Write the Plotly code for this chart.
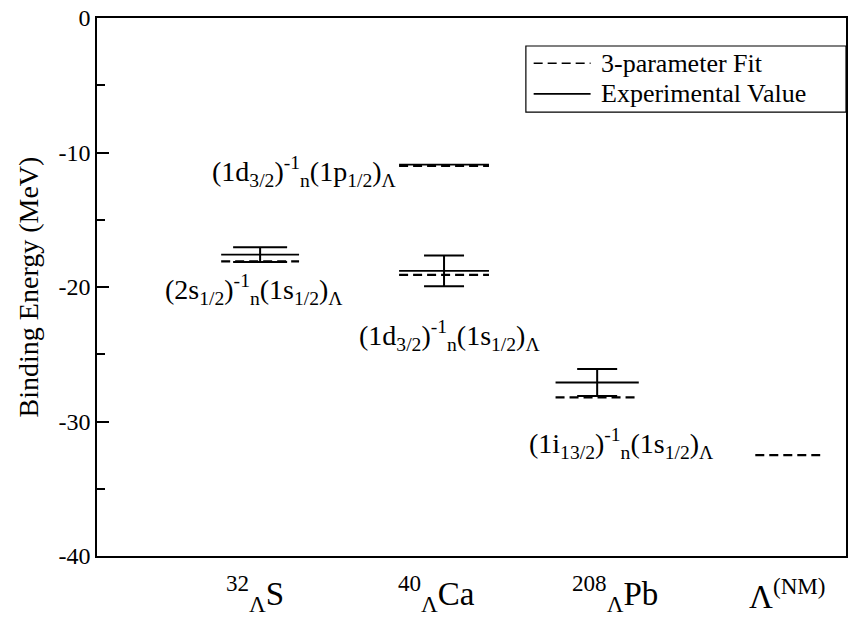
import plotly.graph_objects as go

# ---- data ----
nuclei_labels = ["<sup>32</sup><sub>Λ</sub>S", "<sup>40</sup><sub>Λ</sub>Ca",
                 "<sup>208</sup><sub>Λ</sub>Pb", "Λ<sup>(NM)</sup>"]
nuclei_x = [0.95, 2.04, 3.11, 4.15]

state_x = [0.98, 2.085, 2.085, 3.005, 4.15]
state_hw = [0.234, 0.27, 0.27, 0.25, 0.195]
fit_values = [-18.1, -11.0, -19.1, -28.2, -32.5]
exp_values = [-17.6, -10.9, -18.8, -27.1, None]
exp_errors = [0.55, 0.0, 1.15, 1.0, None]
cap_px = [27, 0, 20, 20, 0]

state_labels = [
    "(2s<sub>1/2</sub>)<sup>-1</sup><sub>n</sub>(1s<sub>1/2</sub>)<sub>Λ</sub>",
    "(1d<sub>3/2</sub>)<sup>-1</sup><sub>n</sub>(1p<sub>1/2</sub>)<sub>Λ</sub>",
    "(1d<sub>3/2</sub>)<sup>-1</sup><sub>n</sub>(1s<sub>1/2</sub>)<sub>Λ</sub>",
    "(1i<sub>13/2</sub>)<sup>-1</sup><sub>n</sub>(1s<sub>1/2</sub>)<sub>Λ</sub>",
]
state_label_x = [0.945, 1.246, 2.12, 3.146]
state_label_y = [-20.2, -11.4, -23.6, -31.6]

legend_names = ["3-parameter Fit", "Experimental Value"]

y_ticks = [0, -10, -20, -30, -40]
y_ticktext = ["0", "-10", "-20", "-30", "-40"]

FONT = "Liberation Serif, Times New Roman, serif"
DASH = "9px,5px"

fig = go.Figure()

# fit (dashed) levels
fx, fy = [], []
for x, hw, v in zip(state_x, state_hw, fit_values):
    fx += [x - hw, x + hw, None]
    fy += [v, v, None]
fig.add_trace(go.Scatter(x=fx, y=fy, mode="lines", name=legend_names[0], showlegend=False,
                         line=dict(color="black", width=2.2, dash=DASH)))

# experimental (solid) levels
ex, ey = [], []
for x, hw, v in zip(state_x, state_hw, exp_values):
    if v is None:
        continue
    ex += [x - hw, x + hw, None]
    ey += [v, v, None]
fig.add_trace(go.Scatter(x=ex, y=ey, mode="lines", name=legend_names[1], showlegend=False,
                         line=dict(color="black", width=1.8)))

# error bars
for x, v, e, w in zip(state_x, exp_values, exp_errors, cap_px):
    if v is None or not e:
        continue
    fig.add_trace(go.Scatter(x=[x], y=[v], mode="markers", showlegend=False,
                             marker=dict(size=0.1, color="black"),
                             error_y=dict(type="data", array=[e], visible=True,
                                          color="black", thickness=2, width=w)))

for txt, x, y in zip(state_labels, state_label_x, state_label_y):
    fig.add_annotation(x=x, y=y, text=txt, showarrow=False, xanchor="center",
                       yanchor="middle", font=dict(family=FONT, size=28, color="black"))

for txt, x in zip(nuclei_labels, nuclei_x):
    fig.add_annotation(x=x, y=-0.07, xref="x", yref="paper", text=txt,
                       showarrow=False, xanchor="center", yanchor="middle",
                       font=dict(family=FONT, size=33, color="black"))

# legend box (compact, as in the original)
fig.add_shape(type="rect", xref="paper", yref="paper", x0=0.5726, x1=1.0,
              y0=0.825, y1=0.948, line=dict(color="black", width=1.2),
              fillcolor="white", layer="above")
leg_y = [0.916, 0.859]
leg_dash = [DASH, "solid"]
for name, yy, dsh in zip(legend_names, leg_y, leg_dash):
    fig.add_shape(type="line", xref="paper", yref="paper", x0=0.583, x1=0.659,
                  y0=yy, y1=yy, line=dict(color="black", width=1.6, dash=dsh),
                  layer="above")
    fig.add_annotation(x=0.672, y=yy, xref="paper", yref="paper", text=name,
                       showarrow=False, xanchor="left", yanchor="middle",
                       borderpad=0,
                       font=dict(family=FONT, size=26, color="black"))

fig.update_layout(
    width=851, height=618,
    margin=dict(l=97, r=3, t=18, b=62),
    paper_bgcolor="white", plot_bgcolor="white",
    font=dict(family=FONT, color="black", size=22),
    showlegend=False,
    xaxis=dict(range=[0, 4.5], showticklabels=False, ticks="", showgrid=False,
               zeroline=False, showline=True, linecolor="black", linewidth=1.5,
               mirror=True),
    yaxis=dict(range=[-40, 0], tickvals=y_ticks, ticktext=y_ticktext,
               ticks="inside", ticklen=12, tickwidth=1.5, tickcolor="black",
               showgrid=False, zeroline=False, showline=True, linecolor="black",
               linewidth=1.5, mirror=True,
               tickfont=dict(family=FONT, size=24),
               minor=dict(ticks="inside", ticklen=8, tickwidth=1.5,
                          tickcolor="black", dtick=5, showgrid=False),
               title=dict(text="Binding Energy (MeV)",
                          font=dict(family=FONT, size=28), standoff=12)),
)

fig.write_html("out.html")
